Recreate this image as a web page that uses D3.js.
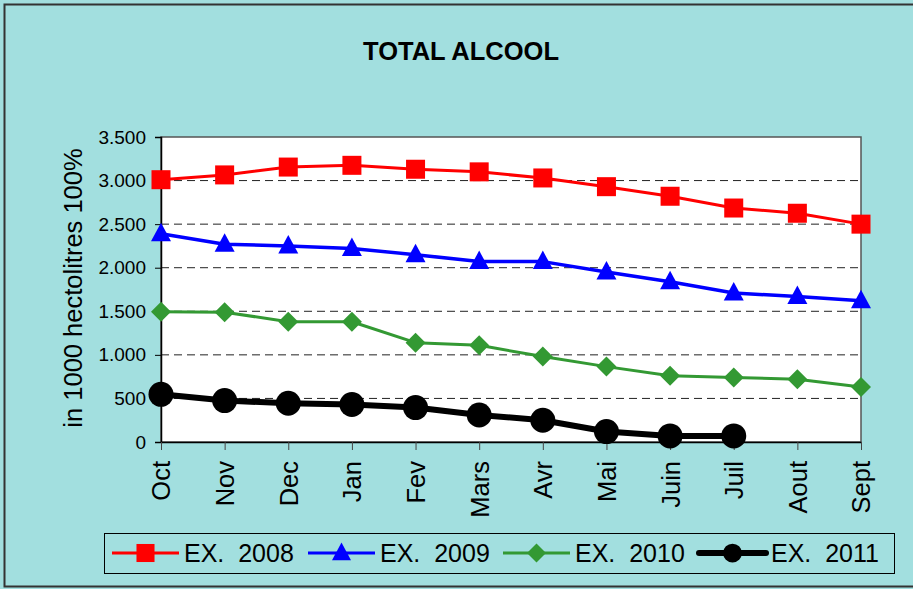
<!DOCTYPE html>
<html>
<head>
<meta charset="utf-8">
<script src="https://cdn.jsdelivr.net/npm/d3@7"></script>
<style>
  body { margin: 0; background: #a2dfdf; }
  text { font-family: Arial, "Liberation Sans", sans-serif; }
</style>
</head>
<body>
<script>
const months = ['Oct', 'Nov', 'Dec', 'Jan', 'Fev', 'Mars', 'Avr', 'Mai', 'Juin', 'Juil', 'Aout', 'Sept'];
const ex2008 = [3010, 3065, 3155, 3175, 3130, 3100, 3030, 2930, 2820, 2685, 2625, 2500];
const ex2009 = [2390, 2270, 2250, 2220, 2150, 2070, 2070, 1950, 1840, 1710, 1670, 1620];
const ex2010 = [1495, 1490, 1380, 1380, 1140, 1110, 980, 865, 760, 740, 720, 630];
const ex2011 = [547, 475, 445, 430, 395, 310, 250, 120, 70, 70];
const yTicks = [0, 500, 1000, 1500, 2000, 2500, 3000, 3500];

const series = [
  { name: 'EX.  2008', values: ex2008, color: '#ff0000', width: 3, marker: 'square' },
  { name: 'EX.  2009', values: ex2009, color: '#0000ff', width: 3.5, marker: 'triangle' },
  { name: 'EX.  2010', values: ex2010, color: '#339933', width: 3, marker: 'diamond' },
  { name: 'EX.  2011', values: ex2011, color: '#000000', width: 6, marker: 'circle' }
];

const width = 913, height = 589;
const plot = { left: 161, right: 861, top: 137, bottom: 442 };

const svg = d3.select('body').append('svg')
  .attr('width', width)
  .attr('height', height);

// chart background + frame
svg.append('rect')
  .attr('x', 4.5).attr('y', 4.5)
  .attr('width', 930).attr('height', 582)
  .attr('fill', '#a2dfdf')
  .attr('stroke', '#333').attr('stroke-width', 2);

const x = d3.scalePoint().domain(months).range([plot.left, plot.right]);
const y = d3.scaleLinear().domain([0, 3500]).range([plot.bottom, plot.top]);

const fmt = d3.formatLocale({ decimal: ',', thousands: '.', grouping: [3], currency: ['', ''] }).format(',d');

svg.append('rect')
  .attr('x', plot.left).attr('y', plot.top)
  .attr('width', plot.right - plot.left).attr('height', plot.bottom - plot.top)
  .attr('fill', '#fff')
  .attr('stroke', '#555').attr('stroke-width', 1.5);

// dashed gridlines
svg.append('g')
  .selectAll('line')
  .data(yTicks.filter(d => d > 0 && d < 3500))
  .enter().append('line')
  .attr('x1', plot.left).attr('x2', plot.right)
  .attr('y1', d => y(d)).attr('y2', d => y(d))
  .attr('stroke', '#222')
  .attr('stroke-dasharray', '8,5');

// y axis
const yAxis = svg.append('g')
  .attr('transform', `translate(${plot.left},0)`)
  .call(d3.axisLeft(y).tickValues(yTicks).tickFormat(fmt).tickSize(6).tickPadding(9));
yAxis.select('.domain').attr('stroke', '#000').attr('stroke-width', 1.5);
yAxis.selectAll('text').attr('font-size', 19).attr('fill', '#000')
  .style('font-family', 'Arial, "Liberation Sans", sans-serif');

// x axis
const xAxis = svg.append('g')
  .attr('transform', `translate(0,${plot.bottom})`)
  .call(d3.axisBottom(x).tickSize(8).tickSizeOuter(0));
xAxis.select('.domain').attr('stroke', '#000').attr('stroke-width', 1.5);
xAxis.selectAll('.tick line').attr('stroke', '#444');
xAxis.selectAll('text')
  .attr('font-size', 25.5).attr('fill', '#000')
  .style('font-family', 'Arial, "Liberation Sans", sans-serif')
  .attr('transform', 'rotate(-90)')
  .attr('text-anchor', 'end')
  .attr('x', -19).attr('y', 0).attr('dy', '0.35em');

// axis title
svg.append('text')
  .attr('transform', 'translate(82,288) rotate(-90)')
  .attr('text-anchor', 'middle')
  .attr('font-size', 25.5)
  .text('in 1000 hectolitres 100%');

// title
svg.append('text')
  .attr('x', 461).attr('y', 60)
  .attr('text-anchor', 'middle')
  .attr('font-size', 25.5).attr('font-weight', 'bold')
  .text('TOTAL ALCOOL');

function drawMarker(g, type, color, k) {
  if (type === 'square') {
    g.append('rect').attr('x', -9.5 * k).attr('y', -9.5 * k).attr('width', 19 * k).attr('height', 19 * k).attr('fill', color);
  } else if (type === 'triangle') {
    g.append('path').attr('d', `M0,${-11 * k}L${10 * k},${7.5 * k}L${-10 * k},${7.5 * k}Z`).attr('fill', color);
  } else if (type === 'diamond') {
    g.append('path').attr('d', `M0,${-10 * k}L${10 * k},0L0,${10 * k}L${-10 * k},0Z`).attr('fill', color);
  } else {
    g.append('circle').attr('r', 12.5 * k).attr('fill', color);
  }
}

const line = d3.line()
  .x((d, i) => x(months[i]))
  .y(d => y(d));

series.forEach(s => {
  svg.append('path')
    .attr('d', line(s.values))
    .attr('fill', 'none')
    .attr('stroke', s.color)
    .attr('stroke-width', s.width)
    .attr('stroke-linejoin', 'round');
  s.values.forEach((v, i) => {
    const g = svg.append('g').attr('transform', `translate(${x(months[i])},${y(v)})`);
    drawMarker(g, s.marker, s.color, 1);
  });
});

// legend
const legend = svg.append('g');
legend.append('rect')
  .attr('x', 104.5).attr('y', 533.5)
  .attr('width', 790).attr('height', 40)
  .attr('fill', 'none').attr('stroke', '#000').attr('stroke-width', 1);

const legendX = [112, 308, 503, 699];
series.forEach((s, i) => {
  const lx = legendX[i];
  const g = legend.append('g').attr('transform', `translate(${lx},553)`);
  g.append('line').attr('x1', 0).attr('x2', 67).attr('y1', 0).attr('y2', 0)
    .attr('stroke', s.color).attr('stroke-width', s.marker === 'circle' ? 6 : 3)
    .attr('stroke-linecap', s.marker === 'circle' ? 'round' : 'butt');
  const m = g.append('g').attr('transform', 'translate(33.5,0)');
  drawMarker(m, s.marker, s.color, s.marker === 'circle' ? 0.75 : 0.95);
  g.append('text')
    .attr('x', 72).attr('y', 0).attr('dy', '0.35em')
    .attr('font-size', 25)
    .attr('xml:space', 'preserve')
    .style('white-space', 'pre')
    .text(s.name);
});
</script>
</body>
</html>
